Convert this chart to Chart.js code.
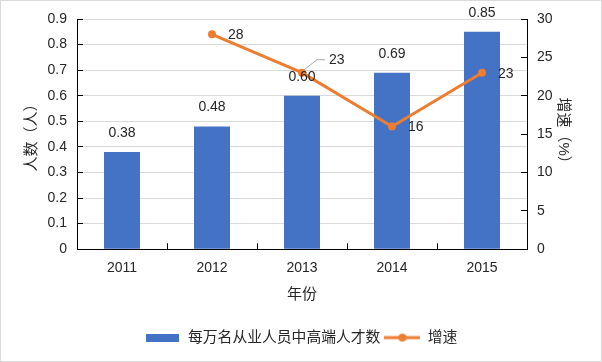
<!DOCTYPE html>
<html>
<head>
<meta charset="utf-8">
<script src="https://cdn.jsdelivr.net/npm/chart.js@4/dist/chart.umd.min.js"></script>
<style>
  html, body { margin: 0; padding: 0; background: #fff; }
  #box { width: 602px; height: 362px; box-sizing: border-box; border: 1px solid #d9d9d9; }
  canvas { display: block; }
</style>
</head>
<body>
<div id="box"><canvas id="talentChart" width="600" height="360"></canvas></div>
<script>
// DATA
const years = ["2011", "2012", "2013", "2014", "2015"];
const talentPer10k = [0.38, 0.48, 0.60, 0.69, 0.85];
const growthRate = [null, 28, 23, 16, 23];

const FONT = "'Liberation Sans', 'Noto Sans CJK SC', sans-serif";
const BLUE = "#4472C4";
const ORANGE = "#ED7D31";

// legend icons
function barIcon() {
  const c = document.createElement("canvas");
  c.width = 33; c.height = 8;
  const g = c.getContext("2d");
  g.fillStyle = BLUE;
  g.fillRect(0, 0, 33, 8);
  return c;
}
function lineIcon() {
  const c = document.createElement("canvas");
  c.width = 36; c.height = 10;
  const g = c.getContext("2d");
  g.strokeStyle = ORANGE;
  g.lineWidth = 3;
  g.beginPath(); g.moveTo(0, 5); g.lineTo(36, 5); g.stroke();
  g.fillStyle = ORANGE;
  g.beginPath(); g.arc(18, 5, 4, 0, Math.PI * 2); g.fill();
  return c;
}

// value labels
const valueLabels = {
  id: "valueLabels",
  afterDatasetsDraw(chart) {
    const ctx = chart.ctx;
    ctx.save();
    ctx.font = "14px " + FONT;
    ctx.fillStyle = "#262626";
    ctx.textBaseline = "middle";

    // line labels (right of points)
    const lineMeta = chart.getDatasetMeta(1);
    lineMeta.data.forEach((pt, i) => {
      const v = growthRate[i];
      if (v === null) return;
      if (i === 2) {
        // moved label with leader line
        ctx.strokeStyle = "#a6a6a6";
        ctx.lineWidth = 1;
        ctx.beginPath();
        ctx.moveTo(pt.x + 1, pt.y - 2);
        ctx.lineTo(pt.x + 15, pt.y - 13);
        ctx.lineTo(pt.x + 23, pt.y - 13);
        ctx.stroke();
        ctx.textAlign = "left";
        ctx.fillText(String(v), pt.x + 27, pt.y - 13);
      } else {
        ctx.textAlign = "left";
        ctx.fillText(String(v), pt.x + 16, pt.y + 1);
      }
    });

    // bar labels (above bars)
    const barMeta = chart.getDatasetMeta(0);
    barMeta.data.forEach((bar, i) => {
      ctx.textAlign = "center";
      ctx.fillText(talentPer10k[i].toFixed(2), bar.x, bar.y - 19);
    });
    ctx.restore();
  }
};

function fixV(width) {
  return s => { s.width = width; s.paddingTop = 0; s.paddingBottom = 0; };
}

new Chart(document.getElementById("talentChart"), {
  data: {
    labels: years,
    datasets: [{
      type: "bar",
      label: "每万名从业人员中高端人才数",
      data: talentPer10k,
      backgroundColor: BLUE,
      barPercentage: 0.4,
      categoryPercentage: 1.0,
      yAxisID: "y",
      order: 2
    }, {
      type: "line",
      label: "增速",
      data: growthRate,
      borderColor: ORANGE,
      backgroundColor: ORANGE,
      borderWidth: 3,
      pointRadius: 4,
      pointHoverRadius: 4,
      pointBackgroundColor: ORANGE,
      pointBorderWidth: 0,
      tension: 0,
      yAxisID: "y1",
      order: 1
    }]
  },
  options: {
    responsive: false,
    animation: false,
    events: [],
    layout: { autoPadding: false, padding: { top: 18, bottom: 6, left: 0, right: 0 } },
    plugins: {
      tooltip: { enabled: false },
      legend: {
        position: "bottom",
        labels: {
          usePointStyle: true,
          pointStyleWidth: 36,
          boxHeight: 10,
          padding: 4,
          color: "#262626",
          font: { family: FONT, size: 14.8 },
          generateLabels(chart) {
            return [
              { text: "每万名从业人员中高端人才数", pointStyle: barIcon(), datasetIndex: 0, fontColor: "#262626", lineWidth: 0 },
              { text: "增速", pointStyle: lineIcon(), datasetIndex: 1, fontColor: "#262626", lineWidth: 0 }
            ];
          }
        }
      }
    },
    scales: {
      x: {
        offset: true,
        grid: { offset: true, drawOnChartArea: false, tickLength: -6, tickColor: "#000", color: "#000" },
        border: { color: "#000", width: 1 },
        ticks: { color: "#262626", font: { family: FONT, size: 14 }, padding: 17 },
        title: { display: true, text: "年份", color: "#262626", font: { family: FONT, size: 15 }, padding: { top: 2, bottom: 22 } },
        afterFit(s) { s.height = 77; s.paddingLeft = 0; s.paddingRight = 0; }
      },
      y: {
        position: "left",
        min: 0, max: 0.9,
        ticks: { stepSize: 0.1, color: "#262626", font: { family: FONT, size: 14 }, padding: 16,
          callback: v => (Math.round(v * 10) / 10).toString() },
        grid: { color: "#d9d9d9", tickLength: -6, tickColor: "#000" },
        border: { color: "#000", width: 1 },
        title: { display: true, text: "人数（人）", color: "#262626", font: { family: FONT, size: 15 }, padding: { top: 22, bottom: 0 } },
        afterFit: fixV(76)
      },
      y1: {
        position: "right",
        min: 0, max: 30,
        ticks: { stepSize: 5, color: "#262626", font: { family: FONT, size: 14 }, padding: 16 },
        grid: { drawOnChartArea: false, tickLength: -6, tickColor: "#000", color: "#000" },
        border: { color: "#000", width: 1 },
        title: { display: true, text: "增速（%）", color: "#262626", font: { family: FONT, size: 15 }, padding: { top: 29, bottom: 0 } },
        afterFit: fixV(74)
      }
    }
  },
  plugins: [valueLabels]
});
</script>
</body>
</html>
